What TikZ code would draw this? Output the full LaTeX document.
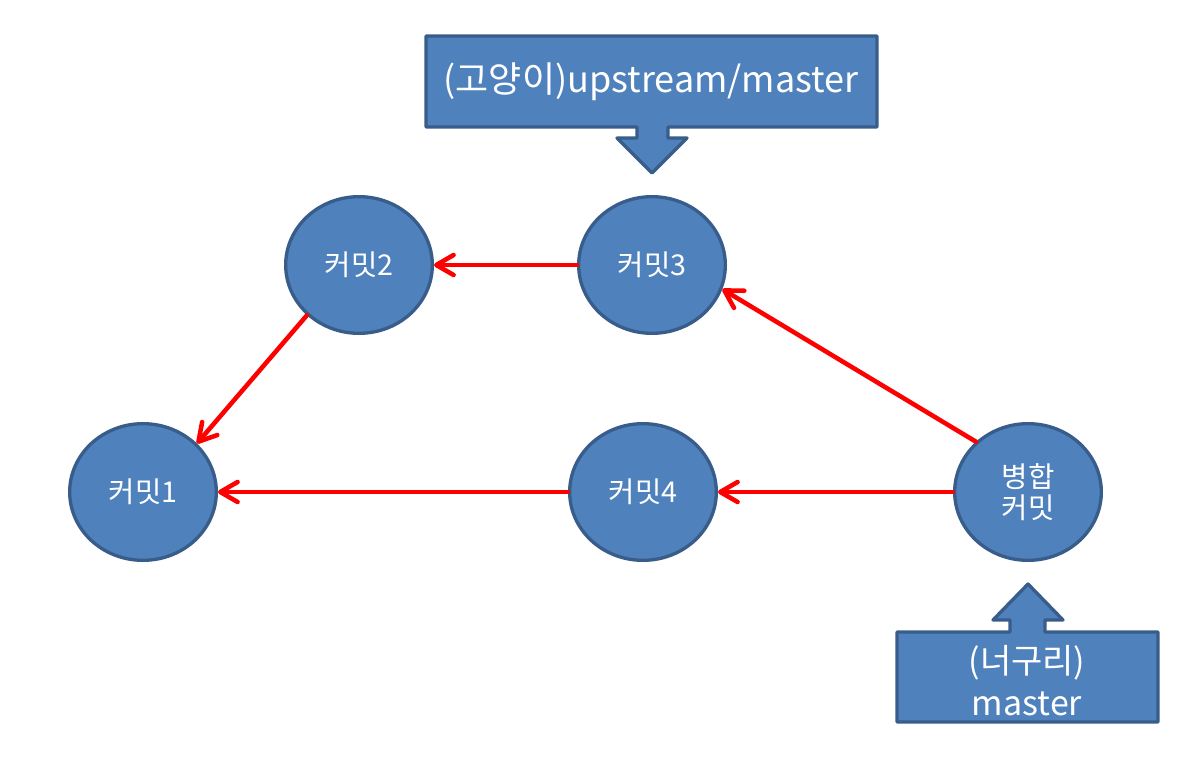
\documentclass[tikz,border=0pt]{standalone}
\usepackage{fontspec}
\setmainfont{Noto Sans CJK KR}
\usetikzlibrary{shapes.geometric,arrows.meta}
\definecolor{boxfill}{HTML}{4F81BD}
\definecolor{boxline}{HTML}{385D8A}
\definecolor{linkred}{HTML}{FF0000}
\tikzset{
  commit/.style={ellipse,draw=boxline,fill=boxfill,line width=2.5pt,
    minimum width=110pt,minimum height=102.5pt,inner sep=0pt,
    text=white,font=\fontsize{21.5}{23.5}\selectfont,align=center},
  link/.style={draw=linkred,line width=3.4pt,line cap=round,
    -{Straight Barb[length=13pt,width=15pt,round]}},
  callout/.style={draw=boxline,fill=boxfill,line width=2.5pt,line join=round},
  callouttext/.style={text=white,align=center,inner sep=0pt}
}
\begin{document}
\begin{tikzpicture}[x=0.75pt,y=-0.75pt]
\useasboundingbox (0,0) rectangle (1196,767);
% top callout
\draw[callout] (426,36) -- (877,36) -- (877,127) -- (668,127) -- (668,138) -- (687,138)
  -- (652,173) -- (617,138) -- (637,138) -- (637,127) -- (426,127) -- cycle;
\node[callouttext,font=\fontsize{27}{31}\selectfont] (up) at (651,82) {(고양이)upstream/master};
% bottom callout
\draw[callout] (897,632) -- (1010,632) -- (1010,620) -- (993,620) -- (1028,584)
  -- (1063,620) -- (1045,620) -- (1045,632) -- (1158,632) -- (1158,722) -- (897,722) -- cycle;
\node[callouttext,font=\fontsize{25.5}{31.5}\selectfont] (ms) at (1027,681) {(너구리)\\master};
% commits
\node[commit] (c1) at (143,492) {커밋1};
\node[commit] (c2) at (359,265) {커밋2};
\node[commit] (c3) at (652,265) {커밋3};
\node[commit] (c4) at (643,492) {커밋4};
\node[commit] (m) at (1028,492) {병합\\커밋};
% links
\draw[link] (c3.west) -- (c2.east);
\draw[link] (c2.224) -- (c1.42);
\draw[link] (m.136) -- (c3.-19.6);
\draw[link] (m.west) -- (c4.east);
\draw[link] (c4.west) -- (c1.east);
\end{tikzpicture}
\end{document}
